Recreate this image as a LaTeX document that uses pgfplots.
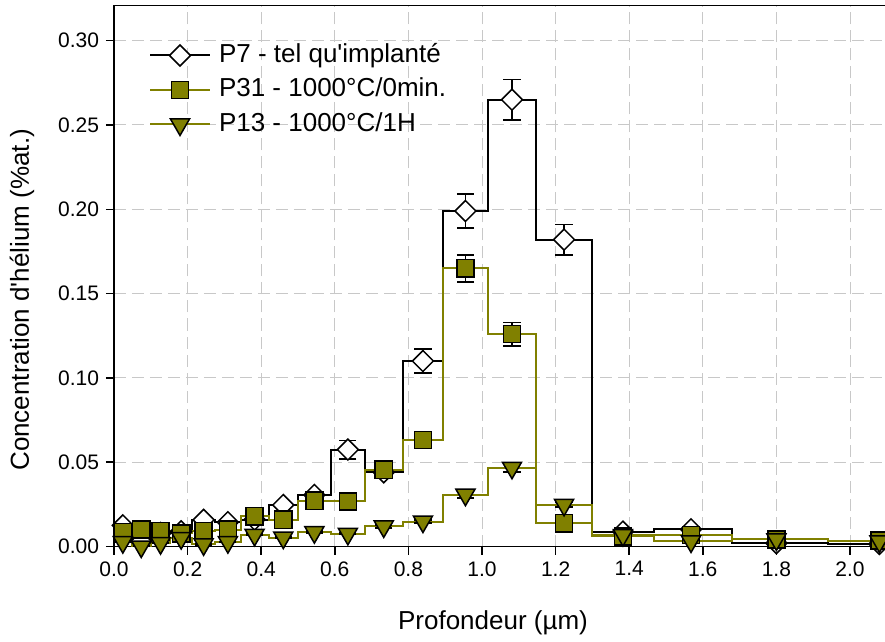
\documentclass[border=0pt]{standalone}
\usepackage{fontspec}
\setmainfont{Liberation Sans}
\usepackage{pgfplots}
\pgfplotsset{compat=1.18}
\usepackage{pgfplotstable}
\definecolor{olivec}{RGB}{128,128,0}
\definecolor{gridc}{RGB}{200,200,200}

% bin edges (left edge) and histogram levels
\pgfplotstableread{
x     p7     p31    p13
0.000 0.0125 0.0085 0.0026
0.048 0.0030 0.0100 0.0000
0.100 0.0080 0.0090 0.0020
0.153 0.0090 0.0078 0.0050
0.212 0.0158 0.0090 0.0013
0.275 0.0144 0.0100 0.0026
0.344 0.0160 0.0179 0.0069
0.420 0.0246 0.0159 0.0053
0.500 0.0306 0.0271 0.0085
0.589 0.0575 0.0267 0.0075
0.682 0.0440 0.0455 0.0119
0.784 0.1100 0.0632 0.0148
0.895 0.1990 0.1650 0.0307
1.015 0.2650 0.1260 0.0467
1.148 0.1820 0.0138 0.0247
1.298 0.0088 0.0060 0.0068
1.468 0.0102 0.0068 0.0030
1.679 0.0020 0.0042 0.0042
1.940 0.0015 0.0035 0.0030
2.220 0.0015 0.0035 0.0030
}\steps

% bin centres, values and errors
\pgfplotstableread{
x      p7     e7     p31    e31    p13    e13
0.024  0.0125 0.0008 0.0085 0.0005 0.0026 0.0003
0.074  0.0030 0.0003 0.0100 0.0006 0.0000 0.0003
0.1265 0.0080 0.0005 0.0090 0.0005 0.0020 0.0003
0.1825 0.0090 0.0006 0.0078 0.0005 0.0050 0.0004
0.2435 0.0158 0.0010 0.0090 0.0005 0.0013 0.0003
0.3095 0.0144 0.0009 0.0100 0.0006 0.0026 0.0003
0.382  0.0160 0.0010 0.0179 0.0010 0.0069 0.0005
0.460  0.0246 0.0015 0.0159 0.0009 0.0053 0.0004
0.5445 0.0306 0.0020 0.0271 0.0015 0.0085 0.0006
0.6355 0.0575 0.0055 0.0267 0.0015 0.0075 0.0005
0.733  0.0440 0.0030 0.0455 0.0025 0.0119 0.0008
0.8395 0.1100 0.0070 0.0632 0.0035 0.0148 0.0009
0.955  0.1990 0.0100 0.1650 0.0080 0.0307 0.0018
1.0815 0.2650 0.0120 0.1260 0.0070 0.0467 0.0025
1.223  0.1820 0.0090 0.0138 0.0008 0.0247 0.0014
1.383  0.0088 0.0006 0.0060 0.0004 0.0068 0.0005
1.568  0.0102 0.0007 0.0068 0.0005 0.0030 0.0003
1.800  0.0020 0.0003 0.0042 0.0003 0.0042 0.0003
2.080  0.0015 0.0003 0.0035 0.0003 0.0030 0.0003
}\marks

\begin{document}
\begin{tikzpicture}
\begin{axis}[
  scale only axis,
  width=386.4bp, height=270.44bp,
  xmin=0, xmax=2.1, ymin=0, ymax=0.3208,
  axis line style={black, line width=0.75bp},
  tick pos=left,
  tick align=outside,
  major tick length=4bp,
  tick style={black, line width=0.75bp},
  xtick={0,0.2,0.4,0.6,0.8,1.0,1.2,1.4,1.6,1.8,2.0},
  ytick={0,0.05,0.10,0.15,0.20,0.25,0.30},
  /pgf/number format/assume math mode=true,
  xticklabel style={/pgf/number format/.cd, fixed, fixed zerofill, precision=1},
  yticklabel style={/pgf/number format/.cd, fixed, fixed zerofill, precision=2},
  tick label style={font=\fontsize{10.5bp}{12bp}\selectfont},
  grid=major,
  major grid style={gridc, line width=0.5bp, dash pattern=on 6bp off 3bp},
  xlabel={Profondeur (µm)},
  ylabel={Concentration d\textquotesingle hélium (\%at.)},
  label style={font=\fontsize{13bp}{15bp}\selectfont},
  xlabel style={at={(axis description cs:0.4904,-0.1414)}, anchor=center},
  ylabel style={at={(axis description cs:-0.119,0.456)}, anchor=center},
  legend style={at={(0.0453,0.930)}, anchor=north west, draw=none, fill=none,
    inner sep=0pt, outer sep=0pt,
    font=\fontsize{13bp}{15bp}\selectfont,
    nodes={inner sep=0pt, text height=9.5bp, text depth=2.5bp},
    row sep=5.25bp},
  legend cell align=left,
  legend image code/.code={%
    \draw[mark repeat=2, mark phase=2, #1] plot coordinates {(0bp,0bp) (15bp,0bp) (30bp,0bp)};},
]
\addlegendimage{black, line width=1bp, mark=square*, mark size=3.7bp,
  mark options={rotate=45, fill=white, draw=black, line width=0.75bp}}
\addlegendentry{\hspace{4bp}P7 - tel qu\textquotesingle implanté}
\addlegendimage{olivec, line width=1bp, mark=square*, mark size=4.3bp,
  mark options={fill=olivec, draw=black, line width=0.75bp}}
\addlegendentry{\hspace{4bp}P31 - 1000°C/0min.}
\addlegendimage{olivec, line width=1bp, mark=triangle*, mark size=5.5bp,
  mark options={rotate=180, fill=olivec, draw=black, line width=0.75bp}}
\addlegendentry{\hspace{4bp}P13 - 1000°C/1H}

% P7
\addplot[forget plot, black, line width=1bp, const plot mark left, no marks] table[x=x, y=p7]{\steps};
\addplot[forget plot, only marks, mark=square*, mark size=3.7bp,
  mark options={rotate=45, fill=white, draw=black, line width=0.75bp},
  error bars/.cd, y dir=both, y explicit,
  error bar style={black, line width=0.75bp},
  error mark options={rotate=90, mark size=4.3bp, black, line width=0.75bp}]
  table[x=x, y=p7, y error=e7]{\marks};
% P31
\addplot[forget plot, olivec, line width=1bp, const plot mark left, no marks] table[x=x, y=p31]{\steps};
\addplot[forget plot, only marks, mark=square*, mark size=4.3bp,
  mark options={fill=olivec, draw=black, line width=0.75bp},
  error bars/.cd, y dir=both, y explicit,
  error bar style={black, line width=0.75bp},
  error mark options={rotate=90, mark size=4.3bp, black, line width=0.75bp}]
  table[x=x, y=p31, y error=e31]{\marks};
% P13
\addplot[forget plot, olivec, line width=1bp, const plot mark left, no marks] table[x=x, y=p13]{\steps};
\addplot[forget plot, only marks, mark=triangle*, mark size=5.5bp,
  mark options={rotate=180, fill=olivec, draw=black, line width=0.75bp},
  error bars/.cd, y dir=both, y explicit,
  error bar style={black, line width=0.75bp},
  error mark options={rotate=90, mark size=4.3bp, black, line width=0.75bp}]
  table[x=x, y=p13, y error=e13]{\marks};
\end{axis}
\pgfresetboundingbox
\useasboundingbox (-57bp,-47.75bp) rectangle (385.5bp,273.25bp);
\end{tikzpicture}
\end{document}
